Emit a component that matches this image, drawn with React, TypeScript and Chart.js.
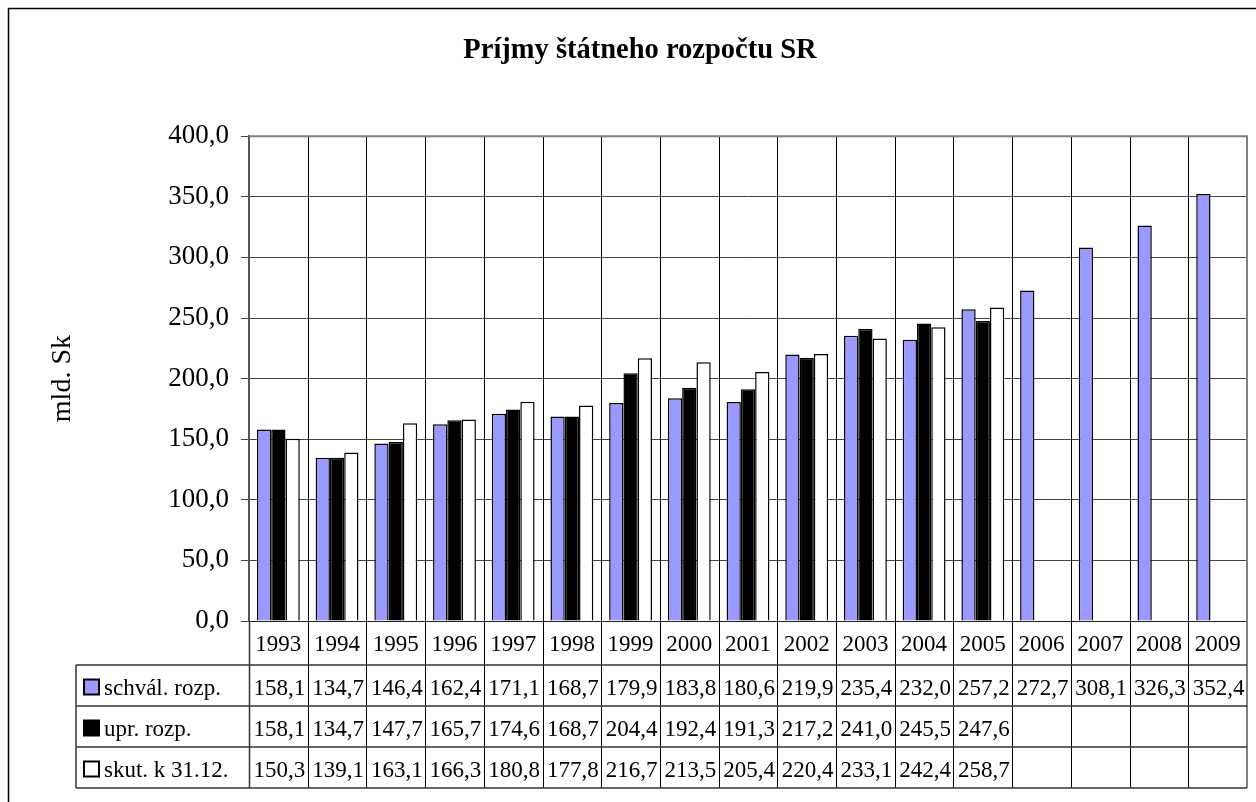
import React, { useEffect, useRef } from "react";
import { Chart, registerables } from "chart.js";

Chart.register(...registerables);

const TITLE = "Príjmy štátneho rozpočtu SR";
const Y_TITLE = "mld. Sk";
const YEARS = ["1993","1994","1995","1996","1997","1998","1999","2000","2001","2002","2003","2004","2005","2006","2007","2008","2009"];
const SCHVAL = [158.1,134.7,146.4,162.4,171.1,168.7,179.9,183.8,180.6,219.9,235.4,232.0,257.2,272.7,308.1,326.3,352.4];
const UPR = [158.1,134.7,147.7,165.7,174.6,168.7,204.4,192.4,191.3,217.2,241.0,245.5,247.6,null,null,null,null];
const SKUT = [150.3,139.1,163.1,166.3,180.8,177.8,216.7,213.5,205.4,220.4,233.1,242.4,258.7,null,null,null,null];
const SERIES_LABELS = ["schvál. rozp.", "upr. rozp.", "skut. k 31.12."];
const SERIES_COLORS = ["#9999FF", "#000000", "#FFFFFF"];
const Y_MIN = 0;
const Y_MAX = 400;
const Y_STEP = 50;

const FONT = "'Liberation Serif', 'Times New Roman', serif";
const fmt = (v: number) => v.toFixed(1).replace(".", ",");

const tablePlugin = {
  id: "dataTable",
  beforeDatasetsDraw(chart: any) {
    const { ctx, chartArea, scales } = chart;
    const x = scales.x;
    const n = YEARS.length;
    const cw = (chartArea.right - chartArea.left) / n;
    const tableBottom = chartArea.bottom + 44 + 41 * 3;
    ctx.save();
    ctx.strokeStyle = "#000";
    ctx.lineWidth = 1;
    for (let i = 1; i < n; i++) {
      const px = Math.round(x.getPixelForValue(i) - cw / 2) + 0.5;
      ctx.beginPath();
      ctx.moveTo(px, chartArea.top);
      ctx.lineTo(px, tableBottom);
      ctx.stroke();
    }
    ctx.restore();
  },
  afterDraw(chart: any) {
    const { ctx, chartArea, scales } = chart;
    const x = scales.x;
    const L = chartArea.left;
    const R = chartArea.right;
    const tableLeft = 76;
    const rowTop = chartArea.bottom + 44;
    const rowH = 41;
    const tableBottom = rowTop + rowH * 3;
    ctx.save();
    // outer frame (left & top)
    ctx.strokeStyle = "#000";
    ctx.lineWidth = 1.5;
    ctx.beginPath();
    ctx.moveTo(8.5, chart.height + 5);
    ctx.lineTo(8.5, 8.5);
    ctx.lineTo(chart.width + 5, 8.5);
    ctx.stroke();
    // plot border top/right
    ctx.strokeStyle = "#808080";
    ctx.lineWidth = 2;
    ctx.beginPath();
    ctx.moveTo(L, chartArea.top);
    ctx.lineTo(R, chartArea.top);
    ctx.lineTo(R, tableBottom);
    ctx.stroke();
    // table horizontal lines
    ctx.strokeStyle = "#333";
    ctx.lineWidth = 1.5;
    for (let r = 0; r <= 3; r++) {
      const py = rowTop + r * rowH;
      ctx.beginPath();
      ctx.moveTo(tableLeft, py);
      ctx.lineTo(R, py);
      ctx.stroke();
    }
    ctx.beginPath();
    ctx.moveTo(tableLeft, rowTop);
    ctx.lineTo(tableLeft, tableBottom);
    ctx.stroke();
    ctx.beginPath();
    ctx.moveTo(L + 0.5, chartArea.bottom);
    ctx.lineTo(L + 0.5, tableBottom);
    ctx.stroke();
    // table content
    const rows = [SCHVAL, UPR, SKUT];
    ctx.font = `23px ${FONT}`;
    ctx.textBaseline = "middle";
    for (let r = 0; r < 3; r++) {
      const cy = rowTop + r * rowH + rowH / 2 + 3;
      ctx.fillStyle = SERIES_COLORS[r];
      ctx.fillRect(84, cy - 9, 15, 15);
      ctx.strokeStyle = "#000";
      ctx.lineWidth = 2;
      ctx.strokeRect(84, cy - 9, 15, 15);
      ctx.fillStyle = "#000";
      ctx.textAlign = "left";
      ctx.fillText(SERIES_LABELS[r], 104, cy);
      ctx.textAlign = "center";
      rows[r].forEach((v, i) => {
        if (v === null || v === undefined) return;
        ctx.fillText(fmt(v as number), x.getPixelForValue(i) + 1, cy);
      });
    }
    ctx.restore();
  },
};

export default function App() {
  const ref = useRef<HTMLCanvasElement>(null);
  useEffect(() => {
    document.body.style.margin = "0";
    const canvas = ref.current!;
    const chart = new Chart(canvas, {
      type: "bar",
      data: {
        labels: YEARS,
        datasets: [
          { label: SERIES_LABELS[0], data: SCHVAL, backgroundColor: SERIES_COLORS[0], borderColor: "#000", borderWidth: 1.5 },
          { label: SERIES_LABELS[1], data: UPR as any, backgroundColor: SERIES_COLORS[1], borderColor: "#000", borderWidth: 1.5 },
          { label: SERIES_LABELS[2], data: SKUT as any, backgroundColor: SERIES_COLORS[2], borderColor: "#000", borderWidth: 1.5 },
        ],
      },
      options: {
        responsive: false,
        animation: false,
        devicePixelRatio: 1,
        layout: { padding: { left: 33, right: 9, top: 0, bottom: 0 } },
        datasets: { bar: { categoryPercentage: 0.73, barPercentage: 1 } },
        plugins: {
          legend: { display: false },
          tooltip: { enabled: false },
          title: {
            display: true,
            text: TITLE,
            color: "#000",
            font: { family: FONT, size: 28.5, weight: "bold" },
            padding: { top: 34, bottom: 68 },
          },
        },
        scales: {
          x: {
            grid: { display: false },
            border: { display: true, color: "#222", width: 1 },
            ticks: {
              color: "#000",
              font: { family: FONT, size: 23 },
              padding: 2,
              maxRotation: 0,
              autoSkip: false,
            },
            afterFit: (s: any) => { s.height = 181; },
          },
          y: {
            min: Y_MIN,
            max: Y_MAX,
            grid: { color: "#444", lineWidth: 1, tickLength: 8, drawTicks: true },
            border: { display: true, color: "#555", width: 2 },
            ticks: {
              stepSize: Y_STEP,
              color: "#000",
              font: { family: FONT, size: 27 },
              padding: 12,
              callback: (v: any) => fmt(Number(v)),
            },
            title: {
              display: true,
              text: Y_TITLE,
              color: "#000",
              font: { family: FONT, size: 28 },
              padding: { top: 13, bottom: 0 },
            },
            afterFit: (s: any) => { s.width = 216; },
          },
        },
      },
      plugins: [tablePlugin],
    });
    return () => chart.destroy();
  }, []);
  return <canvas ref={ref} width={1256} height={802} style={{ display: "block", width: 1256, height: 802 }} />;
}
